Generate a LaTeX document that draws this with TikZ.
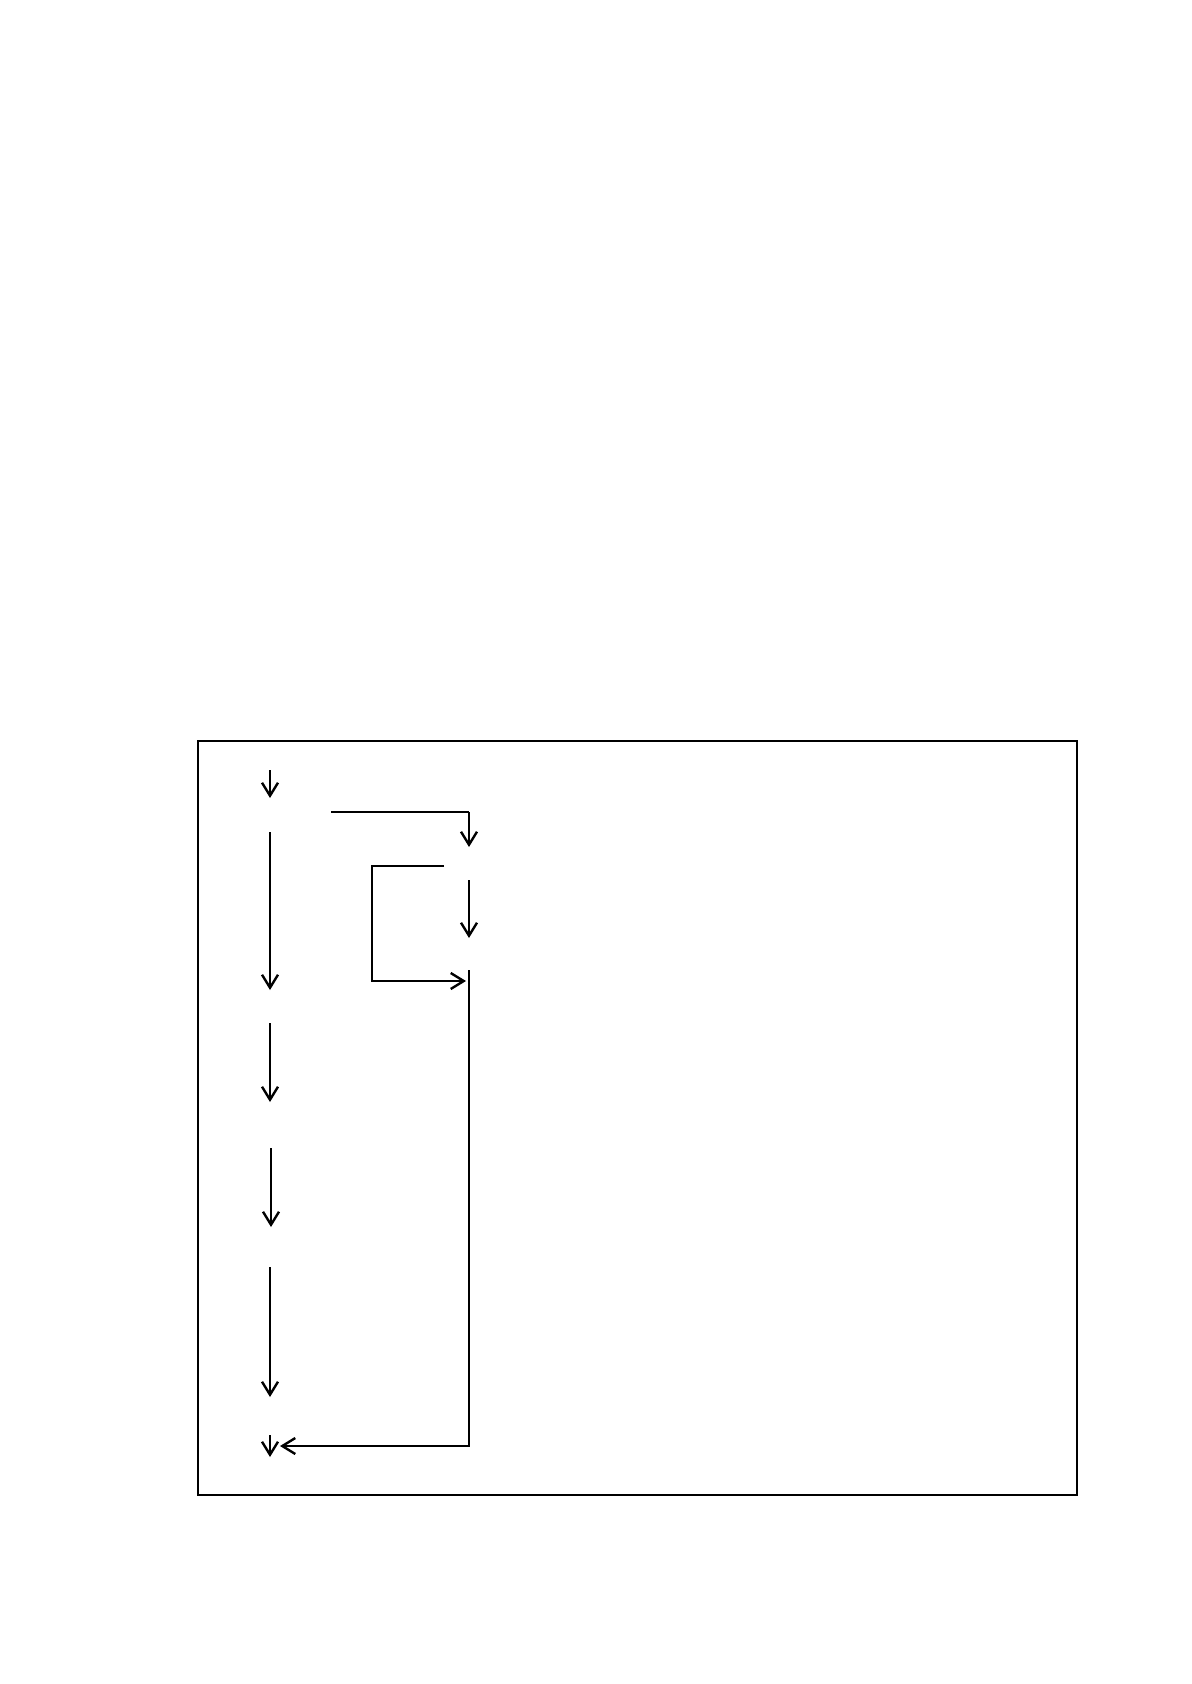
\documentclass[tikz,border=0pt]{standalone}
\usetikzlibrary{arrows.meta}
\begin{document}
\begin{tikzpicture}[x=0.5pt,y=-0.5pt,
  flow/.style={line width=1.25pt,-{Straight Barb[length=6.5pt,width=8pt,line width=1.2pt]}},
  link/.style={line width=0.8pt},
  linkarrow/.style={line width=0.8pt,-{Straight Barb[length=6.5pt,width=8pt,line width=1.2pt]}},
  frame/.style={line width=0.6pt}]
\useasboundingbox (0,0) rectangle (1191,1684);
\draw[frame] (198,741) rectangle (1077,1495);
% left column
\coordinate (a1s) at (270,770);  \coordinate (a1e) at (270,798);
\coordinate (a2s) at (270,832);  \coordinate (a2e) at (270,990);
\coordinate (a3s) at (270,1023); \coordinate (a3e) at (270,1102);
\coordinate (a4s) at (271,1148); \coordinate (a4e) at (271,1227);
\coordinate (a5s) at (270,1267); \coordinate (a5e) at (270,1397);
\coordinate (a6s) at (270,1435); \coordinate (a6e) at (270,1457);
\draw[flow] (a1s) -- (a1e);
\draw[flow] (a2s) -- (a2e);
\draw[flow] (a3s) -- (a3e);
\draw[flow] (a4s) -- (a4e);
\draw[flow] (a5s) -- (a5e);
\draw[flow] (a6s) -- (a6e);
% right branch
\coordinate (r1s) at (331,812); \coordinate (r1c) at (469,812); \coordinate (r1e) at (469,847);
\draw[link] (r1s) -- (r1c);
\draw[flow] (r1c) -- (r1e);
\coordinate (r2s) at (469,880); \coordinate (r2e) at (469,938);
\draw[flow] (r2s) -- (r2e);
% loop bracket
\coordinate (bs) at (444,866); \coordinate (bc1) at (372,866); \coordinate (bc2) at (372,981); \coordinate (be) at (466,981);
\draw[linkarrow] (bs) -- (bc1) -- (bc2) -- (be);
% return line
\coordinate (rs) at (469,970); \coordinate (rc) at (469,1446); \coordinate (re) at (280,1446);
\draw[linkarrow] (rs) -- (rc) -- (re);
\end{tikzpicture}
\end{document}
